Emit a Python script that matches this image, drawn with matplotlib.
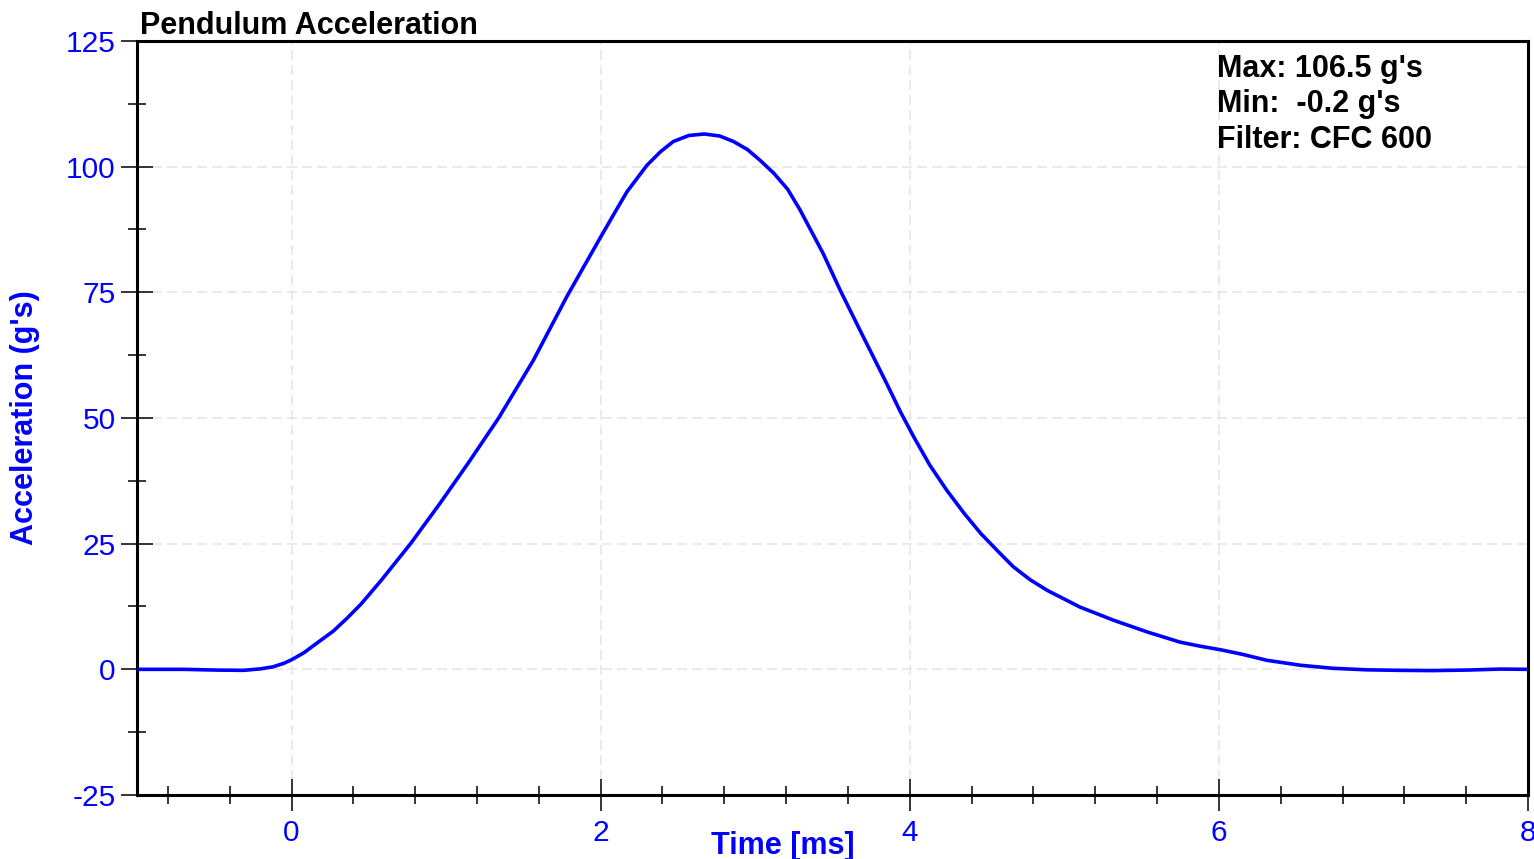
import matplotlib
matplotlib.use("Agg")
import matplotlib.pyplot as plt
from matplotlib.ticker import MultipleLocator, FixedLocator

plt.rcParams['font.family'] = ['Liberation Sans', 'DejaVu Sans']
plt.rcParams['axes.unicode_minus'] = False

# Data
time_ms = [-1.0, -0.7, -0.48, -0.31, -0.2, -0.12, -0.05, 0.0, 0.08, 0.15, 0.27,
           0.36, 0.45, 0.58, 0.77, 0.96, 1.14, 1.34, 1.565, 1.78, 2.0, 2.09,
           2.17, 2.30, 2.388, 2.47, 2.57, 2.67, 2.77, 2.86, 2.95, 3.03, 3.12,
           3.21, 3.29, 3.44, 3.55, 3.70, 3.85, 3.94, 4.03, 4.13, 4.24, 4.35,
           4.46, 4.57, 4.67, 4.78, 4.89, 5.10, 5.32, 5.54, 5.75, 5.88, 6.01,
           6.15, 6.31, 6.53, 6.74, 6.96, 7.17, 7.38, 7.60, 7.82, 8.0]
accel_g = [0.0, 0.0, -0.15, -0.2, 0.1, 0.5, 1.2, 1.9, 3.3, 4.9, 7.6,
           10.2, 13.0, 17.7, 25.0, 33.0, 40.9, 50.0, 61.5, 74.1, 86.0, 90.8,
           95.0, 100.3, 103.0, 105.0, 106.2, 106.5, 106.1, 105.0, 103.4, 101.3, 98.7,
           95.5, 91.4, 82.7, 75.4, 66.1, 56.9, 51.2, 46.0, 40.6, 35.6, 31.1,
           27.0, 23.5, 20.4, 17.8, 15.7, 12.4, 9.75, 7.4, 5.4, 4.6, 3.9,
           3.0, 1.8, 0.8, 0.2, -0.1, -0.2, -0.25, -0.15, 0.05, 0.0]

x_major = [0, 2, 4, 6, 8]
y_major = [-25, 0, 25, 50, 75, 100, 125]
stats_lines = ["Max: 106.5 g's", "Min:  -0.2 g's", "Filter: CFC 600"]

blue = '#0000ff'

fig = plt.figure(figsize=(15.34, 8.59), dpi=100)
ax = fig.add_axes([137/1534, 1-795/859, (1528-137)/1534, (795-41)/859])

ax.plot(time_ms, accel_g, color=blue, lw=2.6, solid_joinstyle='round',
        solid_capstyle='round', zorder=3)

ax.set_xlim(-1, 8)
ax.set_ylim(-25, 125)
ax.xaxis.set_major_locator(FixedLocator(x_major))
ax.xaxis.set_minor_locator(MultipleLocator(0.4))
ax.yaxis.set_major_locator(FixedLocator(y_major))
ax.yaxis.set_minor_locator(MultipleLocator(12.5))

ax.grid(True, which='major', color='#e6e6e6', ls=(0, (6, 3)), lw=1.2, zorder=0)

for s in ax.spines.values():
    s.set_linewidth(2.2)
    s.set_color('black')

ax.tick_params(axis='both', which='major', direction='inout', length=23,
               width=1.1, color='black', labelcolor=blue, labelsize=21.5)
ax.tick_params(axis='both', which='minor', direction='inout', length=13,
               width=1.1, color='black')
ax.tick_params(axis='x', which='major', pad=6)
ax.tick_params(axis='y', which='major', pad=4)

ax.set_xlabel('Time [ms]', color=blue, fontsize=22, fontweight='bold')
ax.xaxis.set_label_coords((783-137)/1391, -(846-795)/754, transform=ax.transAxes)
ax.xaxis.label.set_va('center')
ax.set_ylabel("Acceleration (g's)", color=blue, fontsize=22, fontweight='bold')
ax.yaxis.set_label_coords(-(137-25)/1391, 0.5, transform=ax.transAxes)
ax.yaxis.label.set_va('center')

fig.text(140/1534, 1-26/859, 'Pendulum Acceleration', fontsize=22,
         fontweight='bold', color='black', ha='left', va='center')

for line, py in zip(stats_lines, [69, 104, 140]):
    ax.text((1217-137)/1391, (795-py)/754, line, transform=ax.transAxes,
            fontsize=22, fontweight='bold', color='black', ha='left', va='center')

fig.savefig('out.png', dpi=100)
